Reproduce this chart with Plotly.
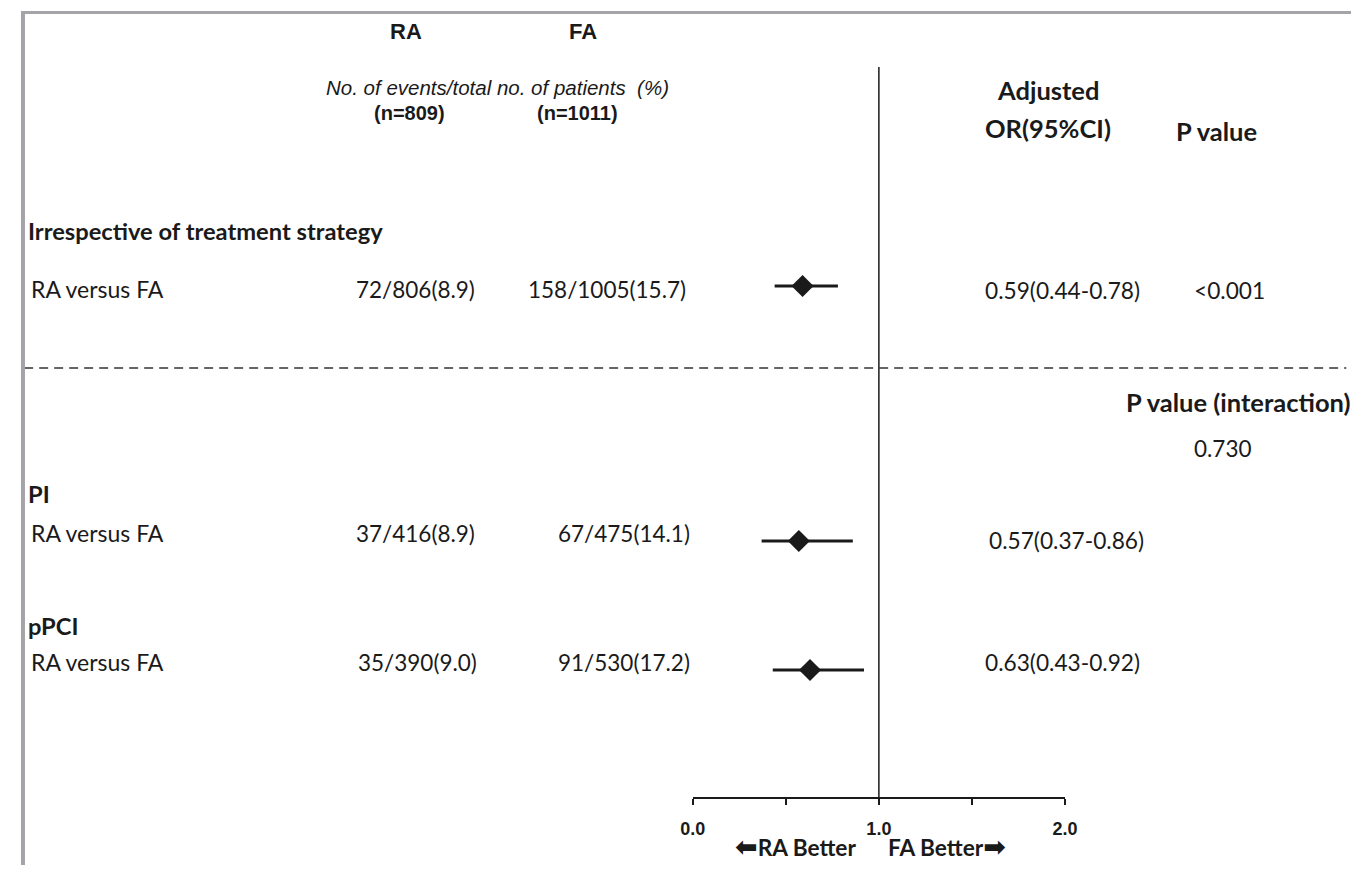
import plotly.graph_objects as go

# ---------------- data ----------------
groups = ["Irrespective of treatment strategy", "PI", "pPCI"]
row_labels = ["RA versus FA", "RA versus FA", "RA versus FA"]
ra_events = [72, 37, 35]
ra_total = [806, 416, 390]
ra_pct = [8.9, 8.9, 9.0]
fa_events = [158, 67, 91]
fa_total = [1005, 475, 530]
fa_pct = [15.7, 14.1, 17.2]
or_est = [0.59, 0.57, 0.63]
ci_low = [0.44, 0.37, 0.43]
ci_high = [0.78, 0.86, 0.92]
p_values = ["<0.001", "", ""]
p_interaction = "0.730"
tick_vals = [0.0, 0.5, 1.0, 1.5, 2.0]
tick_text = ["0.0", "", "1.0", "", "2.0"]
ra_n, fa_n = 809, 1011

# ---------------- layout (target pixel positions in the picture) ----------------
OFF = 8
PW, PH = 1364, 873
FW, FH = PW - OFF, PH - 2 * OFF
SX, DX = 0.98, 14.0          # observed horizontal mapping page -> picture
row_y = [286, 541, 670]
text_y = [289, 533, 662]
or_text_y = [290, 540, 662]
group_y = [231, 494, 626]
ra_x = [355, 355, 357]
fa_x = [526, 556, 556]
or_x = [983, 987, 983]

CAL = "Lato, 'Open Sans', sans-serif"
ARI = "'Liberation Sans', Arial, sans-serif"
INK = "#1a1a1a"

def px(x):
    page_x = (x - DX) / SX
    return (page_x - OFF) / FW

def py(y):
    return (OFF + FH - y) / FH

fig = go.Figure()

fig.add_trace(go.Scatter(
    x=or_est, y=row_y, mode="markers",
    marker=dict(symbol="diamond", size=17, color=INK),
    error_x=dict(type="data", symmetric=False,
                 array=[h - o for h, o in zip(ci_high, or_est)],
                 arrayminus=[o - l for o, l in zip(or_est, ci_low)],
                 thickness=3, width=0, color=INK),
    showlegend=False, hoverinfo="skip", cliponaxis=False,
))

ann = []
def txt(x, y, s, size=23, bold=False, italic=False, font=CAL, xanchor="center"):
    if bold:
        s = "<b>" + s + "</b>"
    if italic:
        s = "<i>" + s + "</i>"
    ann.append(dict(x=px(x), y=py(y), xref="paper", yref="paper", text=s,
                    showarrow=False, xanchor=xanchor, yanchor="middle",
                    font=dict(family=font, size=size, color=INK)))

txt(407, 32, "RA", 22, bold=True, font=ARI)
txt(583, 32, "FA", 22, bold=True, font=ARI)
txt(498, 87.5, "No. of events/total no. of patients  (%)", 20.5, italic=True, font=ARI)
txt(410, 112.5, f"(n={ra_n})", 20, bold=True, font=ARI)
txt(578, 112.5, f"(n={fa_n})", 20, bold=True, font=ARI)
txt(1048, 90, "Adjusted", 25.5, bold=True)
txt(1048, 128, "OR(95%CI)", 25.5, bold=True)
txt(1216, 131, "P value", 25.5, bold=True)
txt(1124, 402, "P value (interaction)", 25.5, bold=True, xanchor="left")
txt(1192, 448, p_interaction, 22.5, xanchor="left")

for i in range(len(groups)):
    txt(27, group_y[i], groups[i], 23.7, bold=True, xanchor="left")
    txt(30, text_y[i], row_labels[i], 23, xanchor="left")
    txt(ra_x[i], text_y[i], f"{ra_events[i]}/{ra_total[i]}({ra_pct[i]:.1f})", 22.5, xanchor="left")
    txt(fa_x[i], text_y[i], f"{fa_events[i]}/{fa_total[i]}({fa_pct[i]:.1f})", 22.5, xanchor="left")
    txt(or_x[i], or_text_y[i], f"{or_est[i]:.2f}({ci_low[i]:.2f}-{ci_high[i]:.2f})", 22.7, xanchor="left")
    if p_values[i]:
        txt(1192, or_text_y[i], p_values[i], 22.7, xanchor="left")

arrow_l = "<span style='font-family:DejaVu Sans;font-size:27px'>⬅</span>"
arrow_r = "<span style='font-family:DejaVu Sans;font-size:27px'>➡</span>"
txt(858, 846, arrow_l + "RA Better", 22.7, bold=True, xanchor="right")
txt(886, 846, "FA Better" + arrow_r, 22.7, bold=True, xanchor="left")

shapes = [
    dict(type="line", xref="x", yref="y", x0=1, x1=1, y0=67, y1=798,
         line=dict(color=INK, width=1.5)),
    dict(type="line", xref="paper", yref="y", x0=px(25), x1=px(1346), y0=368, y1=368,
         line=dict(color="#333333", width=1.5, dash="9px,6px")),
    dict(type="line", xref="paper", yref="y", x0=0, x1=1, y0=12.5, y1=12.5,
         line=dict(color="#a4a4a8", width=3)),
    dict(type="line", xref="paper", yref="y", x0=2 / FW, x1=2 / FW, y0=11, y1=PH,
         line=dict(color="#a4a4a8", width=4)),
]

fig.update_layout(
    width=FW, height=FH,
    margin=dict(l=0, r=0, t=0, b=0),
    paper_bgcolor="white", plot_bgcolor="rgba(0,0,0,0)",
    annotations=ann, shapes=shapes,
    xaxis=dict(domain=[px(693), px(1065)], range=[0, 2], anchor="free",
               position=py(798), showgrid=False, zeroline=False,
               showline=True, linecolor=INK, linewidth=1.5,
               tickmode="array", tickvals=tick_vals, ticktext=tick_text,
               ticks="outside", ticklen=6, tickwidth=1.5, tickcolor=INK,
               ticklabelstandoff=9,
               tickfont=dict(family=ARI, size=18, color=INK, weight="bold"),
               fixedrange=True),
    yaxis=dict(domain=[0, 1], range=[OFF + FH, OFF], visible=False, fixedrange=True),
)

fig.write_html("out.html")
